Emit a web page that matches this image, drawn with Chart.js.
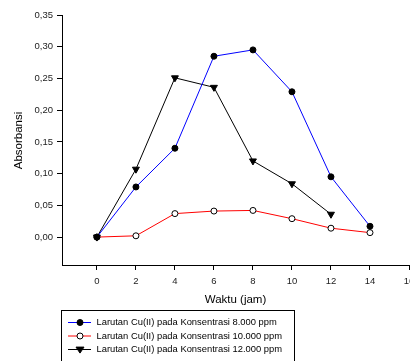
<!DOCTYPE html>
<html>
<head>
<meta charset="utf-8">
<script src="https://cdn.jsdelivr.net/npm/chart.js@4/dist/chart.umd.min.js"></script>
<style>
  html, body { margin: 0; padding: 0; background: #fff; overflow: hidden; }
  .wrap { width: 430px; height: 361px; }
</style>
</head>
<body>
<div class="wrap"><canvas id="grafik" width="430" height="361"></canvas></div>
<script>
// data kurva absorbansi vs waktu
const waktu = [0, 2, 4, 6, 8, 10, 12, 14];
const abs8000 = [0, 0.079, 0.140, 0.285, 0.295, 0.229, 0.095, 0.017];
const abs10000 = [0, 0.002, 0.037, 0.041, 0.042, 0.029, 0.014, 0.007];
const abs12000 = [0, 0.107, 0.251, 0.236, 0.120, 0.084, 0.036];
const labelSeri = [
    'Larutan Cu(II) pada Konsentrasi 8.000 ppm',
    'Larutan Cu(II) pada Konsentrasi 10.000 ppm',
    'Larutan Cu(II) pada Konsentrasi 12.000 ppm'
];
const xTicks = [0, 2, 4, 6, 8, 10, 12, 14, 16];
const yTicks = [0, 0.05, 0.10, 0.15, 0.20, 0.25, 0.30, 0.35];

const fontName = 'Arial, "Liberation Sans", sans-serif';

function toPoints(values) {
    return values.map((v, i) => ({ x: waktu[i], y: v }));
}

// gambar marker sendiri (legend)
function drawMarker(ctx, ds, x, y) {
    ctx.save();
    ctx.fillStyle = ds.pointBackgroundColor;
    ctx.strokeStyle = '#000';
    ctx.lineWidth = 1;
    ctx.beginPath();
    if (ds.pointStyle === 'triangle') {
        const r = ds.pointRadius;
        ctx.moveTo(x - r, y - r * 0.6);
        ctx.lineTo(x + r, y - r * 0.6);
        ctx.lineTo(x, y + r * 0.9);
        ctx.closePath();
    } else {
        ctx.arc(x, y, ds.pointRadius, 0, Math.PI * 2);
    }
    ctx.fill();
    ctx.stroke();
    ctx.restore();
}

const extras = {
    id: 'extras',
    afterDraw(chart) {
        const ctx = chart.ctx;
        const area = chart.chartArea;
        ctx.save();
        ctx.fillStyle = '#000';
        ctx.font = '11.5px ' + fontName;
        ctx.textAlign = 'center';
        ctx.textBaseline = 'middle';
        // judul sumbu x
        ctx.fillText('Waktu (jam)', 235.5, 300);
        // judul sumbu y
        ctx.save();
        ctx.translate(19, 140.5);
        ctx.rotate(-Math.PI / 2);
        ctx.fillText('Absorbansi', 0, 0);
        ctx.restore();

        // kotak legenda
        ctx.strokeStyle = '#000';
        ctx.lineWidth = 1;
        ctx.strokeRect(61.5, 310.5, 233, 60);
        ctx.font = '9.4px ' + fontName;
        ctx.textAlign = 'left';
        const rows = [322, 335.5, 349];
        chart.data.datasets.forEach((ds, i) => {
            const y = rows[i];
            ctx.strokeStyle = ds.borderColor;
            ctx.lineWidth = 1;
            ctx.beginPath();
            ctx.moveTo(68, y + 0.5);
            ctx.lineTo(91, y + 0.5);
            ctx.stroke();
            drawMarker(ctx, ds, 80, y + 0.5);
            ctx.fillStyle = '#000';
            ctx.fillText(ds.label, 96.5, y + 0.5);
        });
        ctx.restore();
    }
};

new Chart(document.getElementById('grafik'), {
    type: 'line',
    data: {
        datasets: [
            {
                label: labelSeri[0],
                data: toPoints(abs8000),
                borderColor: '#0000ff',
                borderWidth: 1,
                pointStyle: 'circle',
                pointRadius: 3,
                pointBackgroundColor: '#000',
                pointBorderColor: '#000',
                pointBorderWidth: 1
            },
            {
                label: labelSeri[1],
                data: toPoints(abs10000),
                borderColor: '#ff0000',
                borderWidth: 1,
                pointStyle: 'circle',
                pointRadius: 3,
                pointBackgroundColor: '#fff',
                pointBorderColor: '#000',
                pointBorderWidth: 1
            },
            {
                label: labelSeri[2],
                data: toPoints(abs12000),
                borderColor: '#000',
                borderWidth: 1,
                pointStyle: 'triangle',
                rotation: 180,
                pointRadius: 4,
                pointBackgroundColor: '#000',
                pointBorderColor: '#000',
                pointBorderWidth: 1
            }
        ]
    },
    options: {
        responsive: false,
        animation: false,
        events: [],
        layout: { padding: { left: 0, right: 21, top: 15, bottom: 0 } },
        plugins: {
            legend: { display: false },
            tooltip: { enabled: false }
        },
        elements: { line: { tension: 0 } },
        scales: {
            x: {
                type: 'linear',
                min: -1.79,
                max: 16,
                afterFit: (scale) => { scale.height = 96; },
                afterBuildTicks: (scale) => { scale.ticks = xTicks.map(v => ({ value: v })); },
                grid: { drawOnChartArea: false, drawTicks: true, tickLength: 5, color: '#000' },
                border: { display: true, color: '#000', width: 1 },
                ticks: {
                    padding: 6,
                    color: '#222',
                    font: { family: fontName, size: 9.5 },
                    maxRotation: 0,
                    autoSkip: false
                }
            },
            y: {
                type: 'linear',
                min: -0.044,
                max: 0.35,
                afterFit: (scale) => { scale.width = 62; },
                afterBuildTicks: (scale) => { scale.ticks = yTicks.map(v => ({ value: v })); },
                grid: { drawOnChartArea: false, drawTicks: true, tickLength: 5, color: '#000' },
                border: { display: true, color: '#000', width: 1 },
                ticks: {
                    padding: 4,
                    color: '#222',
                    font: { family: fontName, size: 9.5 },
                    autoSkip: false,
                    callback: (value) => value.toFixed(2).replace('.', ',')
                }
            }
        }
    },
    plugins: [extras]
});
</script>
</body>
</html>
